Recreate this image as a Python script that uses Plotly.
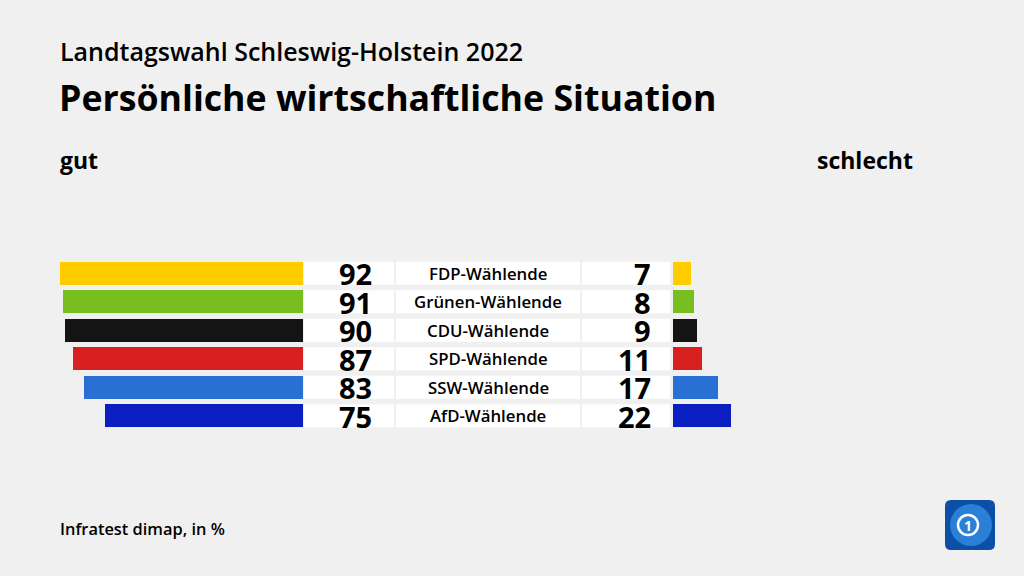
import plotly.graph_objects as go

categories = ["FDP-Wählende", "Grünen-Wählende", "CDU-Wählende", "SPD-Wählende", "SSW-Wählende", "AfD-Wählende"]
gut = [92, 91, 90, 87, 83, 75]
schlecht = [7, 8, 9, 11, 17, 22]
colors = ["#ffcc00", "#78be20", "#141414", "#d7201f", "#2a6fd4", "#0a1ec2"]

W, H = 1024, 576
PX_PER_UNIT = 2.64
BG = "#f0f0f0"
FONT = "Open Sans"

def px(x):
    return x / W

def py(y):
    return 1 - y / H

fig = go.Figure()

# left bars (gut)
fig.add_trace(go.Bar(
    x=gut, y=categories, orientation="h", marker=dict(color=colors, line=dict(width=0)),
    width=0.8, xaxis="x", yaxis="y", hoverinfo="skip", showlegend=False))
# right bars (schlecht)
fig.add_trace(go.Bar(
    x=schlecht, y=categories, orientation="h", marker=dict(color=colors, line=dict(width=0)),
    width=0.8, xaxis="x2", yaxis="y", hoverinfo="skip", showlegend=False))

left_edge = 303
right_edge = 673
row_top, row_pitch = 259, 28.5
n = len(categories)

fig.update_layout(
    width=W, height=H, margin=dict(l=0, r=0, t=0, b=0),
    paper_bgcolor=BG, plot_bgcolor="rgba(0,0,0,0)",
    xaxis=dict(domain=[0, px(left_edge)], range=[left_edge / PX_PER_UNIT, 0],
               visible=False, fixedrange=True),
    xaxis2=dict(domain=[px(right_edge), 1], range=[0, (W - right_edge) / PX_PER_UNIT],
                visible=False, fixedrange=True),
    yaxis=dict(domain=[py(row_top + n * row_pitch), py(row_top)],
               categoryorder="array", categoryarray=categories,
               range=[n - 0.5, -0.5], visible=False, fixedrange=True),
    bargap=0,
)

shapes = []
annotations = []
for i, (cat, g, s) in enumerate(zip(categories, gut, schlecht)):
    for x0, x1 in [(304, 394), (396, 580), (582, 670)]:
        shapes.append(dict(type="rect", xref="paper", yref="y",
                           x0=px(x0), x1=px(x1), y0=i - 0.4, y1=i + 0.4,
                           fillcolor="white", line=dict(width=0), layer="below"))
    annotations.append(dict(x=px(374), y=i, xref="paper", yref="y", text=str(g),
                            xanchor="right", yanchor="middle", showarrow=False, height=26,
                            font=dict(family=FONT, size=29, color="#000", weight=700)))
    annotations.append(dict(x=px(488), y=i, xref="paper", yref="y", text=cat,
                            xanchor="center", yanchor="middle", showarrow=False,
                            font=dict(family=FONT, size=16.8, color="#000", weight=600)))
    annotations.append(dict(x=px(653), y=i, xref="paper", yref="y", text=str(s),
                            xanchor="right", yanchor="middle", showarrow=False, height=26,
                            font=dict(family=FONT, size=29, color="#000", weight=700)))

# titles
annotations += [
    dict(x=px(58), y=py(51), xref="paper", yref="paper", text="Landtagswahl Schleswig-Holstein 2022",
         xanchor="left", yanchor="middle", showarrow=False,
         font=dict(family=FONT, size=25, color="#000", weight=600)),
    dict(x=px(57), y=py(97), xref="paper", yref="paper", text="Persönliche wirtschaftliche Situation",
         xanchor="left", yanchor="middle", showarrow=False,
         font=dict(family=FONT, size=35.7, color="#000", weight=700)),
    dict(x=px(58), y=py(160), xref="paper", yref="paper", text="gut",
         xanchor="left", yanchor="middle", showarrow=False,
         font=dict(family=FONT, size=23, color="#000", weight=700)),
    dict(x=px(915), y=py(160), xref="paper", yref="paper", text="schlecht",
         xanchor="right", yanchor="middle", showarrow=False,
         font=dict(family=FONT, size=23, color="#000", weight=700)),
    dict(x=px(58), y=py(528), xref="paper", yref="paper", text="Infratest dimap, in %",
         xanchor="left", yanchor="middle", showarrow=False,
         font=dict(family=FONT, size=16.4, color="#000", weight=600)),
]

# logo
lx0, ly0, lx1, ly1, r = 945, 500, 995, 550, 6
path = (f"M {px(lx0 + r)} {py(ly0)} L {px(lx1 - r)} {py(ly0)} "
        f"Q {px(lx1)} {py(ly0)} {px(lx1)} {py(ly0 + r)} L {px(lx1)} {py(ly1 - r)} "
        f"Q {px(lx1)} {py(ly1)} {px(lx1 - r)} {py(ly1)} L {px(lx0 + r)} {py(ly1)} "
        f"Q {px(lx0)} {py(ly1)} {px(lx0)} {py(ly1 - r)} L {px(lx0)} {py(ly0 + r)} "
        f"Q {px(lx0)} {py(ly0)} {px(lx0 + r)} {py(ly0)} Z")
shapes.append(dict(type="path", xref="paper", yref="paper", path=path,
                   fillcolor="#0b4fa6", line=dict(width=0)))
shapes.append(dict(type="circle", xref="paper", yref="paper",
                   x0=px(950), x1=px(992), y0=py(546), y1=py(504),
                   fillcolor="#2a7fd6", line=dict(width=0)))
shapes.append(dict(type="circle", xref="paper", yref="paper",
                   x0=px(958), x1=px(978), y0=py(535), y1=py(515),
                   fillcolor="rgba(0,0,0,0)", line=dict(color="white", width=2.5)))
annotations.append(dict(x=px(968), y=py(525), xref="paper", yref="paper", text="1",
                        xanchor="center", yanchor="middle", showarrow=False,
                        font=dict(family=FONT, size=14, color="white", weight=700)))

fig.update_layout(shapes=shapes, annotations=annotations)
fig.write_html("out.html", config={"displayModeBar": False},
               post_script="document.body.style.margin='0';document.body.style.overflow='hidden';")
